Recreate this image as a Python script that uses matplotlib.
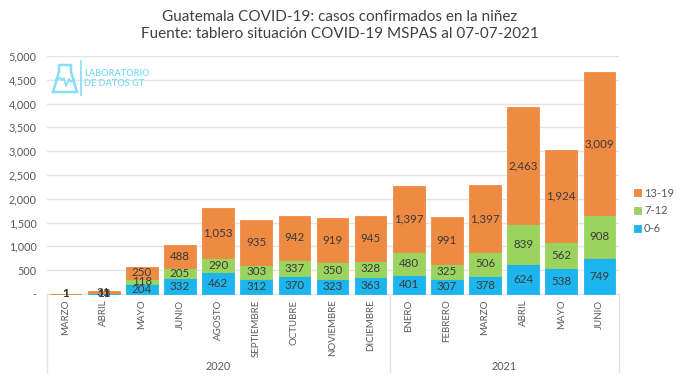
import matplotlib
matplotlib.use("Agg")
import matplotlib.pyplot as plt
from matplotlib.patches import Polygon
from matplotlib.ticker import FuncFormatter

months = ["MARZO","ABRIL","MAYO","JUNIO","AGOSTO","SEPTIEMBRE","OCTUBRE","NOVIEMBRE","DICIEMBRE",
          "ENERO","FEBRERO","MARZO","ABRIL","MAYO","JUNIO"]
age_0_6 = [1, 11, 204, 332, 462, 312, 370, 323, 363, 401, 307, 378, 624, 538, 749]
age_7_12 = [1, 13, 118, 205, 290, 303, 337, 350, 328, 480, 325, 506, 839, 562, 908]
age_13_19 = [1, 31, 250, 488, 1053, 935, 942, 919, 945, 1397, 991, 1397, 2463, 1924, 3009]
years = ["2020", "2021"]
yticks = [0, 500, 1000, 1500, 2000, 2500, 3000, 3500, 4000, 4500, 5000]
title_lines = "Guatemala COVID-19: casos confirmados en la niñez\nFuente: tablero situación COVID-19 MSPAS al 07-07-2021"

plt.rcParams['font.family'] = ['Lato', 'DejaVu Sans']
W, H = 680, 378
fig = plt.figure(figsize=(W/100, H/100), dpi=100, facecolor="white")
L, R, T, B = 46.5, 618.5, 56, 294
ax = fig.add_axes([L/W, 1-B/H, (R-L)/W, (B-T)/H])
C = ["#1CB5EE", "#9BD35F", "#EF8A43"]
x = list(range(len(months)))
bottom = [0]*len(x)
series = [("0-6", age_0_6), ("7-12", age_7_12), ("13-19", age_13_19)]
for (name, vals), c in zip(series, C):
    ax.bar(x, vals, 0.83, bottom=bottom, color=c, label=name, edgecolor=c, linewidth=0.6, zorder=3, clip_on=False)
    for xi, v, b in zip(x, vals, bottom):
        ax.text(xi, b+v/2, f"{v:,}", ha="center", va="center", fontsize=8.3, color="#3a3a3a", zorder=5)
    bottom = [b+v for b, v in zip(bottom, vals)]

ax.set_xlim(-0.5, 14.5)
ax.set_ylim(0, 5000)
ax.set_yticks(yticks)
ax.yaxis.set_major_formatter(FuncFormatter(lambda v, p: "-" if v == 0 else f"{int(v):,}"))
ax.grid(axis="y", color="#E3E3E3", lw=1)
ax.set_axisbelow(True)
for s in ("top", "right", "left"):
    ax.spines[s].set_visible(False)
ax.spines["bottom"].set_color("#E3E3E3")
ax.tick_params(axis="y", length=0, labelsize=7.8, labelcolor="#595959", pad=7)
ax.set_xticks(x)
ax.set_xticklabels(months, rotation=90, fontsize=7, color="#595959")
ax.tick_params(axis="x", length=0, pad=4)

# multi-level axis separators and year labels
tr = ax.get_xaxis_transform()
for xv in (-0.5, 8.5, 14.5):
    ax.plot([xv, xv], [0, -(372-294)/(B-T)], transform=tr, color="#E3E3E3", lw=1, clip_on=False)
ax.text(4, -(367-294)/(B-T), years[0], transform=tr, ha="center", va="center", fontsize=7.8, color="#595959")
ax.text(11.5, -(367-294)/(B-T), years[1], transform=tr, ha="center", va="center", fontsize=7.8, color="#595959")

fig.text(340/W, 1-25.5/H, title_lines, ha="center", va="center", fontsize=11, color="#404040", linespacing=1.3)

handles, labels = ax.get_legend_handles_labels()
ax.legend(handles[::-1], labels[::-1], loc="center left", bbox_to_anchor=((634-L)/(R-L), (B-211)/(B-T)),
          frameon=False, fontsize=8, handlelength=0.6, handleheight=0.6, handletextpad=0.3,
          labelspacing=0.62, borderaxespad=0, borderpad=0, labelcolor="#595959")

# logo
LOGO = "#85DEF6"
def px(xp, yp):
    return (xp/W, 1-yp/H)
fig.add_artist(Polygon([px(59,65),px(71,65),px(71,72),px(77,92),px(53,92),px(59,72)], closed=True,
                       fill=False, edgecolor=LOGO, lw=1.8, transform=fig.transFigure))
fig.add_artist(plt.Line2D([56/W,60/W,62/W,64/W,66/W,69/W,71/W,74/W],[1-80/H,1-78/H,1-80/H,1-78/H,1-86/H,1-79/H,1-82/H,1-79/H],
                          color=LOGO, lw=1.3, transform=fig.transFigure))
fig.add_artist(plt.Line2D([80.5/W,80.5/W],[1-61/H,1-95/H], color=LOGO, lw=1.2, transform=fig.transFigure))
fig.text(84.5/W, 1-74/H, "LABORATORIO", fontsize=6.6, fontweight="bold", color=LOGO, va="center")
fig.text(84.5/W, 1-84/H, "DE DATOS GT", fontsize=6.6, fontweight="bold", color=LOGO, va="center")

fig.savefig("out.png", dpi=100)
